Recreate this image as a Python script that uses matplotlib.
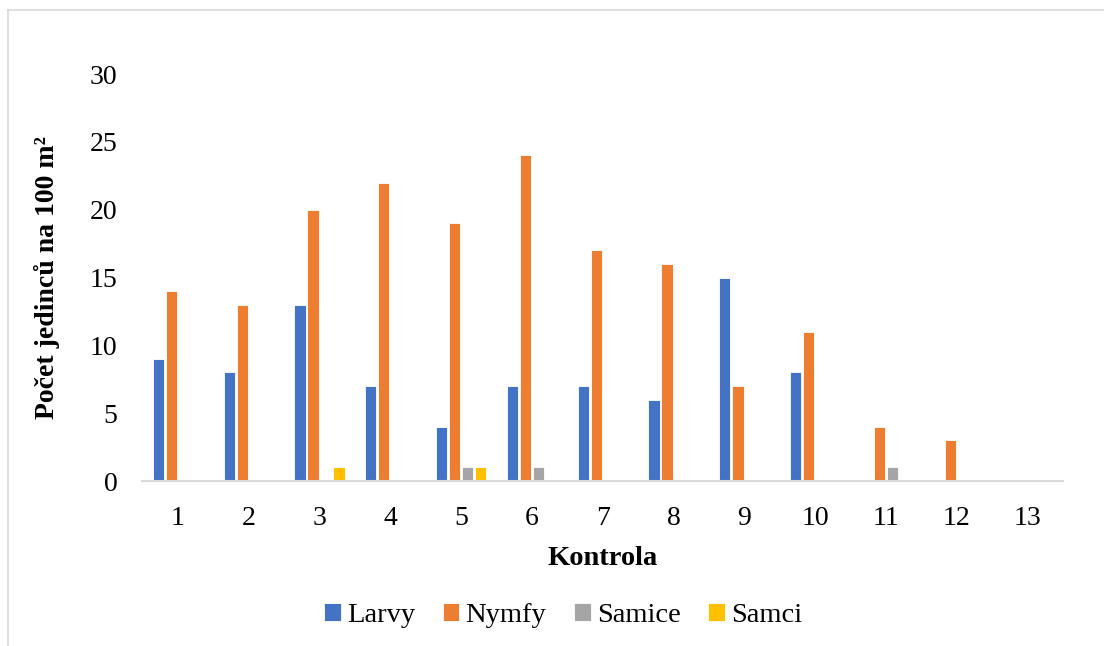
import numpy as np
import matplotlib
matplotlib.use("Agg")
import matplotlib.pyplot as plt
from matplotlib.lines import Line2D

# Data
kontrola = ["1", "2", "3", "4", "5", "6", "7", "8", "9", "10", "11", "12", "13"]
larvy = [9, 8, 13, 7, 4, 7, 7, 6, 15, 8, 0, 0, 0]
nymfy = [14, 13, 20, 22, 19, 24, 17, 16, 7, 11, 4, 3, 0]
samice = [0, 0, 0, 0, 1, 1, 0, 0, 0, 0, 1, 0, 0]
samci = [0, 0, 1, 0, 1, 0, 0, 0, 0, 0, 0, 0, 0]

series = [("Larvy", larvy, "#4472C4"),
          ("Nymfy", nymfy, "#ED7D31"),
          ("Samice", samice, "#A5A5A5"),
          ("Samci", samci, "#FFC000")]

plt.rcParams["font.family"] = ["Liberation Serif", "DejaVu Serif"]

fig = plt.figure(figsize=(11.04, 6.46), dpi=100)
ax = fig.add_axes([0.129, 0.2554, 0.834, 0.630])

x = np.arange(len(kontrola))
step = 0.184
width = 0.158
for i, (name, vals, color) in enumerate(series):
    ax.bar(x + (i - 1.5) * step, vals, width, color=color, label=name,
           edgecolor="white", linewidth=0.6)

ax.set_xlim(-0.5, len(kontrola) - 0.5)
ax.set_ylim(0, 30)
ax.set_yticks(range(0, 31, 5))
ax.set_xticks(x)
ax.set_xticklabels(kontrola)
ax.tick_params(axis="both", length=0, labelsize=20)
ax.tick_params(axis="y", pad=18)
ax.tick_params(axis="x", pad=18)

for s in ["top", "right", "left"]:
    ax.spines[s].set_visible(False)
ax.spines["bottom"].set_color("#d9d9d9")
ax.spines["bottom"].set_linewidth(1.5)

ax.set_xlabel("Kontrola", fontsize=20.5, fontweight="bold", labelpad=11)
ax.set_ylabel("Počet jedinců na 100 m²", fontsize=20,
              fontweight="bold", labelpad=21)

ax.legend(loc="center", bbox_to_anchor=(0.457, -0.33), ncol=4, frameon=False,
          fontsize=20.5, handlelength=0.58, handleheight=0.58, handletextpad=0.22,
          columnspacing=0.97)

# light border lines at top and left of the chart area
fig.add_artist(Line2D([8 / 1104, 8 / 1104], [0, 1 - 10 / 646],
                      color="#d9d9d9", linewidth=1.2))
fig.add_artist(Line2D([8 / 1104, 1], [1 - 10 / 646, 1 - 10 / 646],
                      color="#d9d9d9", linewidth=1.2))

plt.savefig("out.png", dpi=100)
